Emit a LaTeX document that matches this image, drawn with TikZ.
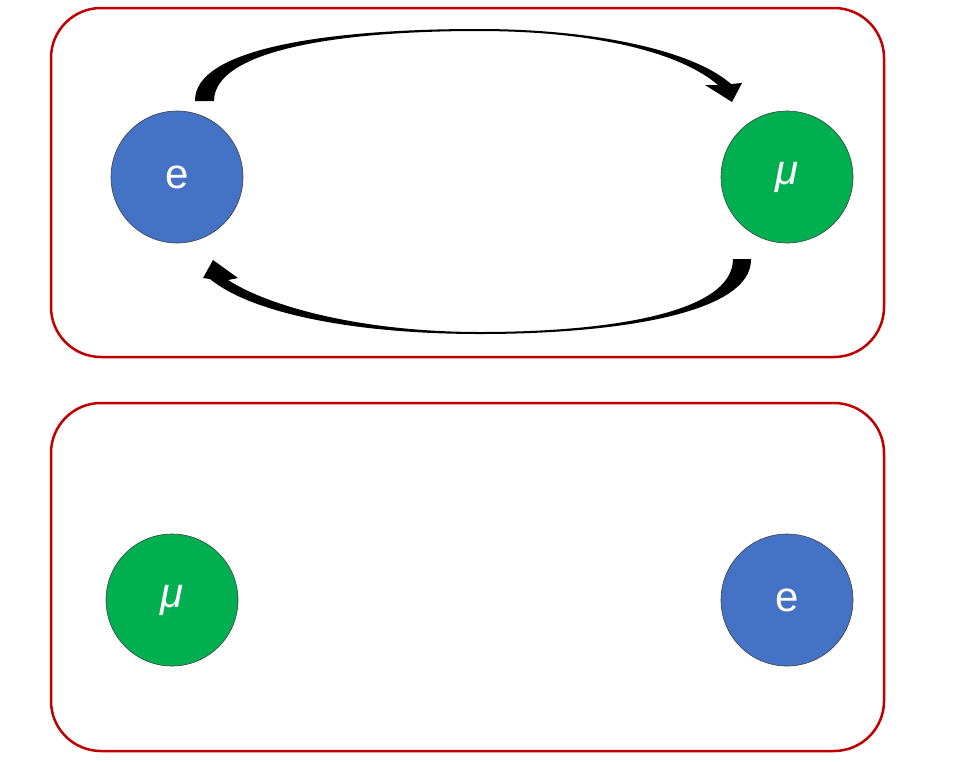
\documentclass[tikz,border=0pt]{standalone}
\usepackage{fontspec}
\setmainfont{Liberation Sans}
\usepackage{tikz}
\definecolor{boxred}{RGB}{192,0,0}
\definecolor{eblue}{RGB}{68,114,196}
\definecolor{mugreen}{RGB}{0,176,80}

\begin{document}
\begin{tikzpicture}[x=1pt,y=-1pt,
  frame/.style={draw=boxred,line width=2.5pt,rounded corners=50pt},
  particle/.style={circle,minimum size=132pt,inner sep=0pt,draw=black!75,line width=0.6pt,
    text=white,font=\fontsize{42}{42}\selectfont},
  electron/.style={particle,fill=eblue},
  muon/.style={particle,fill=mugreen}]
\useasboundingbox (0,0) rectangle (960,761);
\draw[frame] (51,8) rectangle (884,357);
\draw[frame] (51,403) rectangle (884,751);
\node[electron] (e1) at (177,177) {e};
\node[muon] (m1) at (787,177) {\textit{μ}};
\node[muon] (m2) at (172,600) {\textit{μ}};
\node[electron] (e2) at (787,600) {e};
\fill[black] (195,101) .. controls (194,48) and (330,29) .. (478,29)
  .. controls (600,29) and (695,52) .. (731,84) -- (742,83) -- (732,102) -- (705,85) -- (718,85)
  .. controls (682,54) and (600,31) .. (478,31)
  .. controls (340,31) and (214,50) .. (214,101) -- cycle;
\fill[black] (751,259) .. controls (752,315) and (610,334) .. (480,334)
  .. controls (350,334) and (250,312) .. (210,279) -- (203,278) -- (213,260) -- (238,278) -- (228,280)
  .. controls (268,306) and (360,332) .. (480,332)
  .. controls (605,332) and (733,314) .. (733,259) -- cycle;
\end{tikzpicture}
\end{document}
